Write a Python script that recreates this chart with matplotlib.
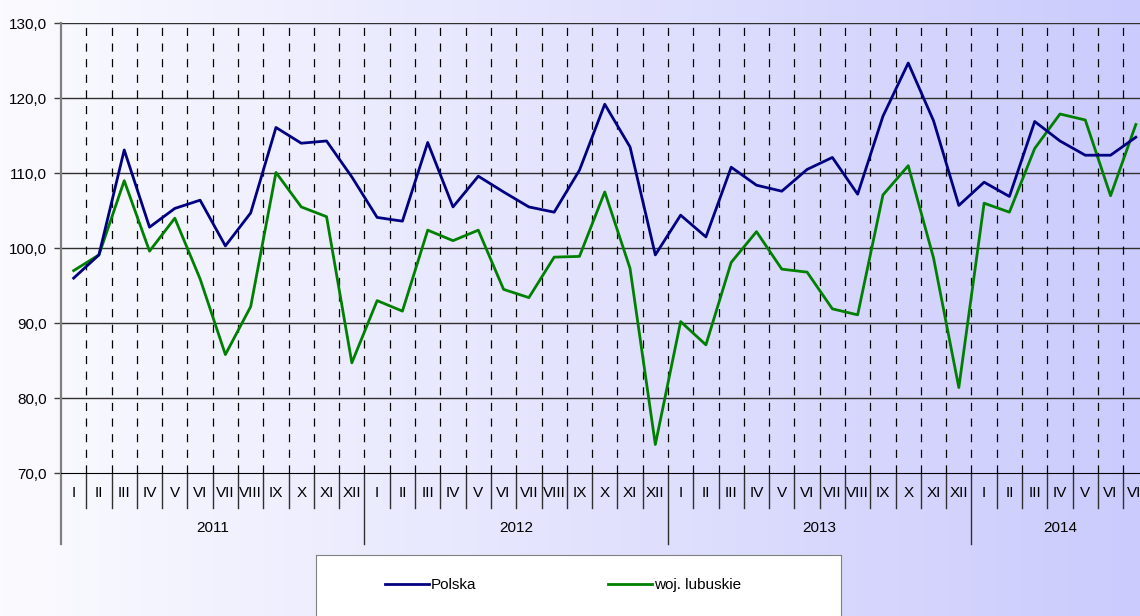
import numpy as np
import matplotlib
matplotlib.use('Agg')
import matplotlib.pyplot as plt
from matplotlib.colors import LinearSegmentedColormap
from matplotlib.transforms import blended_transform_factory

plt.rcParams['font.family'] = ['Liberation Sans', 'DejaVu Sans']
plt.rcParams['font.size'] = 11

roman = ['I', 'II', 'III', 'IV', 'V', 'VI', 'VII', 'VIII', 'IX', 'X', 'XI', 'XII']
years = ['2011', '2012', '2013', '2014']
year_len = [12, 12, 12, 7]
months = roman * 3 + roman[:7]

polska = [96.0, 99.1, 113.1, 102.8, 105.3, 106.4, 100.3, 104.7, 116.1, 114.0, 114.3, 109.5,
          104.1, 103.6, 114.1, 105.5, 109.6, 107.5, 105.5, 104.8, 110.4, 119.2, 113.5, 99.1,
          104.4, 101.5, 110.8, 108.4, 107.6, 110.5, 112.1, 107.2, 117.6, 124.7, 117.0, 105.7,
          108.8, 106.9, 116.9, 114.3, 112.4, 112.4, 114.8]
lubuskie = [97.0, 99.1, 109.0, 99.6, 104.0, 95.9, 85.8, 92.2, 110.1, 105.5, 104.2, 84.7,
            93.0, 91.6, 102.4, 101.0, 102.4, 94.5, 93.4, 98.8, 98.9, 107.5, 97.3, 73.8,
            90.2, 87.1, 98.1, 102.2, 97.2, 96.8, 91.9, 91.1, 107.1, 111.0, 98.7, 81.4,
            106.0, 104.8, 113.3, 117.9, 117.1, 107.0, 116.5]
series_names = ['Polska', 'woj. lubuskie']

W, H = 1140, 616
fig = plt.figure(figsize=(W / 100, H / 100), dpi=100)

# background gradient
bg = fig.add_axes([0, 0, 1, 1], zorder=-10)
cmap = LinearSegmentedColormap.from_list('bg', ['#fbfbff', '#cbcbfd'])
bg.imshow(np.linspace(0, 1, 256)[None, :], aspect='auto', cmap=cmap, extent=[0, 1, 0, 1])
bg.axis('off')

n = len(months)
ax = fig.add_axes([61 / W, 1 - 473 / H, (1148.5 - 61) / W, 449.7 / H])
ax.patch.set_alpha(0)
x = np.arange(n) + 0.5
l1, = ax.plot(x, polska, color='#000080', lw=2.0, zorder=4)
l2, = ax.plot(x, lubuskie, color='#008000', lw=2.0, zorder=3)
ax.set_xlim(0, n)
ax.set_ylim(70, 130)

for yv in range(80, 131, 10):
    ax.axhline(yv, color='#303030', lw=1, zorder=1)
ax.vlines(np.arange(1, n), 70, 130, colors='black', lw=0.9,
          linestyles=(0, (6.5, 6)), zorder=1)

ax.set_yticks(range(70, 131, 10))
ax.set_yticklabels([f'{v},0' for v in range(70, 131, 10)])
ax.set_xticks([])
ax.tick_params(axis='y', length=5, width=1, color='#404040', pad=5)
for s in ['top', 'right']:
    ax.spines[s].set_visible(False)
ax.spines['bottom'].set_color('black')
ax.spines['left'].set_color('#808080')
ax.spines['left'].set_linewidth(1.6)

trans = blended_transform_factory(ax.transData, ax.transAxes)
starts = np.cumsum([0] + year_len[:-1])
for i in range(1, n + 1):
    if i in starts:
        continue
    ax.plot([i, i], [0, -0.077], transform=trans, clip_on=False, color='#303030', lw=1)
for b in starts:
    ax.plot([b, b], [0, -0.158], transform=trans, clip_on=False,
            color='#808080' if b == 0 else '#303030', lw=1.6 if b == 0 else 1)
for i, m in enumerate(months):
    ax.text(i + 0.5, -0.044, m, transform=trans, ha='center', va='center')
for b, yl, ylen in zip(starts, years, year_len):
    ax.text(b + ylen / 2, -0.122, yl, transform=trans, ha='center', va='center')

# legend box
lax = fig.add_axes([316 / W, -0.02, 525 / W, (H - 555) / H + 0.02])
lax.set_facecolor('white')
lax.set_xticks([])
lax.set_yticks([])
for s in lax.spines.values():
    s.set_color('#808080')
lax.legend([l1, l2], series_names, loc='center left',
           bbox_to_anchor=(385 / W, 1 - 585 / H), bbox_transform=fig.transFigure,
           ncol=2, frameon=False, borderpad=0, borderaxespad=0,
           handlelength=2.9, handletextpad=0.1, columnspacing=8.6)

fig.savefig('out.png', dpi=100)
